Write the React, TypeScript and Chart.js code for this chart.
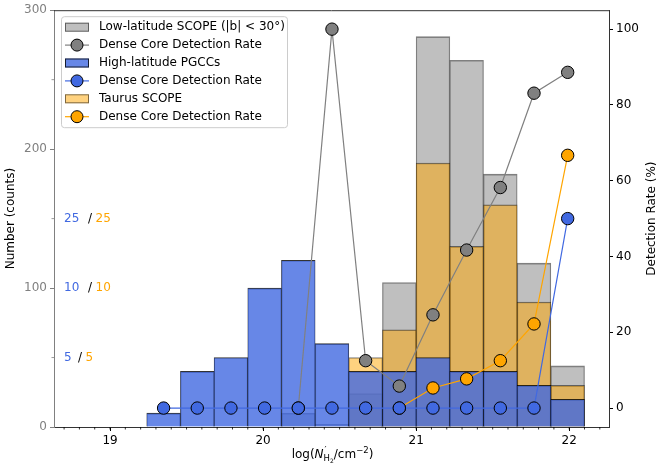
import { useEffect, useRef } from "react"
import { Chart, registerables } from "chart.js"

Chart.register(...registerables)

// histogram bin centres (bin width 0.22 dex)
const binCenters = [19.35, 19.57, 19.79, 20.01, 20.23, 20.45, 20.67, 20.89, 21.11, 21.33, 21.55, 21.77, 21.99]

const highLatCounts = [10, 40, 50, 100, 120, 60, 40, 40, 50, 40, 40, 30, 20]
const lowLatBins = binCenters.slice(4)
const lowLatCounts = [10, 2, 24, 104, 281, 264, 182, 118, 44]
const taurusBins = binCenters.slice(6)
const taurusCounts = [50, 70, 190, 130, 160, 90, 30]

// detection rates (%)
const lowLatRate = [0, 100, 12.5, 5.8, 24.6, 41.7, 58.2, 83.1, 88.6]
const highLatRate = [0, 0, 0, 0, 0, 0, 0, 0, 0, 0, 0, 0, 50]
const taurusRateBins = binCenters.slice(7)
const taurusRate = [0, 5.3, 7.7, 12.5, 22.2, 66.7]

const xTicks = [19, 20, 21, 22]
const countTicks = [0, 100, 200, 300]
const countMinorTicks = [50, 150, 250]
const rateTicks = [0, 20, 40, 60, 80, 100]

// thresholds written at the left
const thresholdLevels = [150, 100, 50]
const highLatThresholds = ["25", "10", "5"]
const taurusThresholds = ["25", "10", "5"]

const FONT = "DejaVu Sans"
const BLUE = "#4169e1"
const ORANGE = "#ffa500"
const GRAY = "#808080"

Chart.defaults.font.family = FONT
Chart.defaults.font.size = 12
Chart.defaults.color = "#000"

const toXY = (xs: number[], ys: number[]) => xs.map((x, i) => ({ x, y: ys[i] }))

const barStyle = {
  type: "bar" as const,
  grouped: false,
  barPercentage: 1,
  categoryPercentage: 1,
  borderSkipped: false,
  borderWidth: { top: 1, left: 0.6, right: 0.6, bottom: 0 },
}

const lineStyle = {
  type: "line" as const,
  yAxisID: "y1",
  borderWidth: 1.2,
  pointRadius: 6.2,
  pointBorderColor: "#000",
  pointBorderWidth: 1,
  fill: false,
  tension: 0,
}

const decorations = {
  id: "decorations",
  afterDraw(chart: any) {
    const { ctx, chartArea, scales } = chart
    const { left, right, top, bottom } = chartArea
    ctx.save()

    // top spine
    ctx.strokeStyle = "#333"
    ctx.lineWidth = 1
    ctx.beginPath()
    ctx.moveTo(left, top + 0.5)
    ctx.lineTo(right, top + 0.5)
    ctx.stroke()

    // minor ticks
    ctx.strokeStyle = "#000"
    ctx.lineWidth = 0.8
    for (let v = 18.7; v < 22.25; v += 0.1) {
      const px = scales.x.getPixelForValue(v)
      ctx.beginPath()
      ctx.moveTo(px, bottom)
      ctx.lineTo(px, bottom + 2.5)
      ctx.stroke()
    }
    ctx.strokeStyle = GRAY
    countMinorTicks.forEach((v) => {
      const py = scales.y.getPixelForValue(v)
      ctx.beginPath()
      ctx.moveTo(left, py)
      ctx.lineTo(left - 2.5, py)
      ctx.stroke()
    })

    // right axis title, reading bottom to top
    ctx.save()
    ctx.translate(chart.width - 12.5, (top + bottom) / 2)
    ctx.rotate(-Math.PI / 2)
    ctx.font = `12px ${FONT}`
    ctx.fillStyle = "#000"
    ctx.textAlign = "center"
    ctx.textBaseline = "middle"
    ctx.fillText("Detection Rate (%)", 0, 0)
    ctx.restore()

    // threshold labels
    ctx.font = `12px ${FONT}`
    ctx.textBaseline = "middle"
    ctx.textAlign = "left"
    thresholdLevels.forEach((lv, i) => {
      const py = scales.y.getPixelForValue(lv)
      let px = left + 10
      ctx.fillStyle = BLUE
      ctx.fillText(highLatThresholds[i], px, py)
      px += ctx.measureText(highLatThresholds[i]).width + 4 + 2.4 * highLatThresholds[i].length
      ctx.fillStyle = "#000"
      ctx.fillText("/", px, py)
      px += ctx.measureText("/").width + 3.5
      ctx.fillStyle = ORANGE
      ctx.fillText(taurusThresholds[i], px, py)
    })

    // x-axis title with sub/superscripts
    const parts = [
      { t: "log(", f: `12px ${FONT}`, dy: 0, adv: true },
      { t: "N", f: `italic 12px ${FONT}`, dy: 0, adv: true },
      { t: "′", f: `9px ${FONT}`, dy: -4.5, adv: false },
      { t: "H", f: `8.5px ${FONT}`, dy: 3.5, adv: true },
      { t: "2", f: `6px ${FONT}`, dy: 5.5, adv: true },
      { t: "/cm", f: `12px ${FONT}`, dy: 0, adv: true },
      { t: "−2", f: `8.5px ${FONT}`, dy: -5, adv: true },
      { t: ")", f: `12px ${FONT}`, dy: 0, adv: true },
    ]
    let total = 0
    parts.forEach((p) => {
      ctx.font = p.f
      if (p.adv) total += ctx.measureText(p.t).width
    })
    let tx = (left + right) / 2 + 1 - total / 2
    const ty = bottom + 30.5
    ctx.fillStyle = "#000"
    ctx.textBaseline = "alphabetic"
    parts.forEach((p) => {
      ctx.font = p.f
      ctx.fillText(p.t, tx + (p.t === "′" ? 1 : 0), ty + p.dy)
      if (p.adv) tx += ctx.measureText(p.t).width
    })

    // legend box
    const bx = left + 7
    const by = top + 6
    const bw = 226
    const bh = 111
    ctx.fillStyle = "rgba(255,255,255,0.8)"
    ctx.strokeStyle = "#cccccc"
    ctx.lineWidth = 1
    ctx.beginPath()
    ctx.roundRect(bx + 0.5, by + 0.5, bw, bh, 3)
    ctx.fill()
    ctx.stroke()

    ctx.font = `12px ${FONT}`
    ctx.textBaseline = "middle"
    chart.data.datasets.forEach((ds: any, i: number) => {
      const cy = by + 11 + i * 17.9
      const hx = bx + 4
      const hw = 24
      if (ds.type === "bar") {
        ctx.fillStyle = ds.backgroundColor
        ctx.fillRect(hx, cy - 4.5, hw, 9)
        ctx.strokeStyle = ds.borderColor
        ctx.lineWidth = 1
        ctx.strokeRect(hx + 0.5, cy - 4, hw - 1, 8)
      } else {
        ctx.strokeStyle = ds.borderColor
        ctx.lineWidth = 1.2
        ctx.beginPath()
        ctx.moveTo(hx, cy)
        ctx.lineTo(hx + hw, cy)
        ctx.stroke()
        ctx.fillStyle = ds.pointBackgroundColor
        ctx.strokeStyle = "#000"
        ctx.lineWidth = 1
        ctx.beginPath()
        ctx.arc(hx + hw / 2, cy, 6, 0, Math.PI * 2)
        ctx.fill()
        ctx.stroke()
      }
      ctx.fillStyle = "#000"
      ctx.fillText(ds.label, bx + 38, cy)
    })
    ctx.restore()
  },
}

export default function App() {
  const canvasRef = useRef<HTMLCanvasElement>(null)
  const chartRef = useRef<Chart | null>(null)

  useEffect(() => {
    if (!canvasRef.current) return
    if (chartRef.current) chartRef.current.destroy()

    chartRef.current = new Chart(canvasRef.current, {
      type: "bar",
      data: {
        datasets: [
          {
            ...barStyle,
            label: "Low-latitude SCOPE (|b| < 30°)",
            data: toXY(lowLatBins, lowLatCounts),
            backgroundColor: "rgba(128,128,128,0.5)",
            borderColor: "rgba(0,0,0,0.5)",
            order: 6,
          },
          {
            ...lineStyle,
            label: "Dense Core Detection Rate",
            data: toXY(lowLatBins, lowLatRate),
            borderColor: GRAY,
            pointBackgroundColor: GRAY,
            order: 3,
          },
          {
            ...barStyle,
            label: "High-latitude PGCCs",
            data: toXY(binCenters, highLatCounts),
            backgroundColor: "rgba(65,105,225,0.8)",
            borderColor: "rgba(0,0,0,0.8)",
            order: 4,
          },
          {
            ...lineStyle,
            label: "Dense Core Detection Rate",
            data: toXY(binCenters, highLatRate),
            borderColor: BLUE,
            pointBackgroundColor: BLUE,
            order: 1,
          },
          {
            ...barStyle,
            label: "Taurus SCOPE",
            data: toXY(taurusBins, taurusCounts),
            backgroundColor: "rgba(255,165,0,0.5)",
            borderColor: "rgba(0,0,0,0.5)",
            order: 5,
          },
          {
            ...lineStyle,
            label: "Dense Core Detection Rate",
            data: toXY(taurusRateBins, taurusRate),
            borderColor: ORANGE,
            pointBackgroundColor: ORANGE,
            order: 2,
          },
        ] as any,
      },
      options: {
        animation: false,
        responsive: true,
        maintainAspectRatio: false,
        events: [],
        layout: { padding: { top: 10, left: 0, right: 0, bottom: 0 } },
        plugins: {
          legend: { display: false },
          tooltip: { enabled: false },
        },
        scales: {
          x: {
            type: "linear",
            min: 18.634,
            max: 22.26,
            offset: false,
            afterBuildTicks: (s: any) => {
              s.ticks = xTicks.map((value) => ({ value }))
            },
            afterFit: (s: any) => {
              s.height = 43
            },
            grid: { offset: false, drawOnChartArea: false, drawTicks: true, tickLength: 4, tickColor: "#000" },
            border: { color: "#333" },
            ticks: { color: "#000", padding: 3, maxRotation: 0, autoSkip: false, callback: (v: any) => String(v) },
          },
          y: {
            type: "linear",
            position: "left",
            min: 0,
            max: 300,
            afterBuildTicks: (s: any) => {
              s.ticks = countTicks.map((value) => ({ value }))
            },
            afterFit: (s: any) => {
              s.width = 54
            },
            grid: { drawOnChartArea: false, drawTicks: true, tickLength: 4, tickColor: GRAY },
            border: { color: GRAY },
            ticks: { color: GRAY, padding: 3 },
            title: { display: true, text: "Number (counts)", color: "#000", padding: { top: 4, bottom: 0 } },
          },
          y1: {
            type: "linear",
            position: "right",
            min: -5,
            max: 105,
            afterBuildTicks: (s: any) => {
              s.ticks = rateTicks.map((value) => ({ value }))
            },
            afterFit: (s: any) => {
              s.width = 55
            },
            grid: { drawOnChartArea: false, drawTicks: true, tickLength: 4, tickColor: "#000" },
            border: { color: "#333" },
            ticks: { color: "#000", padding: 3 },
            title: { display: false, text: "Detection Rate (%)" },
          },
        },
      } as any,
      plugins: [decorations],
    })

    return () => {
      if (chartRef.current) {
        chartRef.current.destroy()
        chartRef.current = null
      }
    }
  }, [])

  return (
    <div style={{ position: "fixed", left: 0, top: 0, width: 664, height: 470, background: "#fff" }}>
      <canvas ref={canvasRef} />
    </div>
  )
}
